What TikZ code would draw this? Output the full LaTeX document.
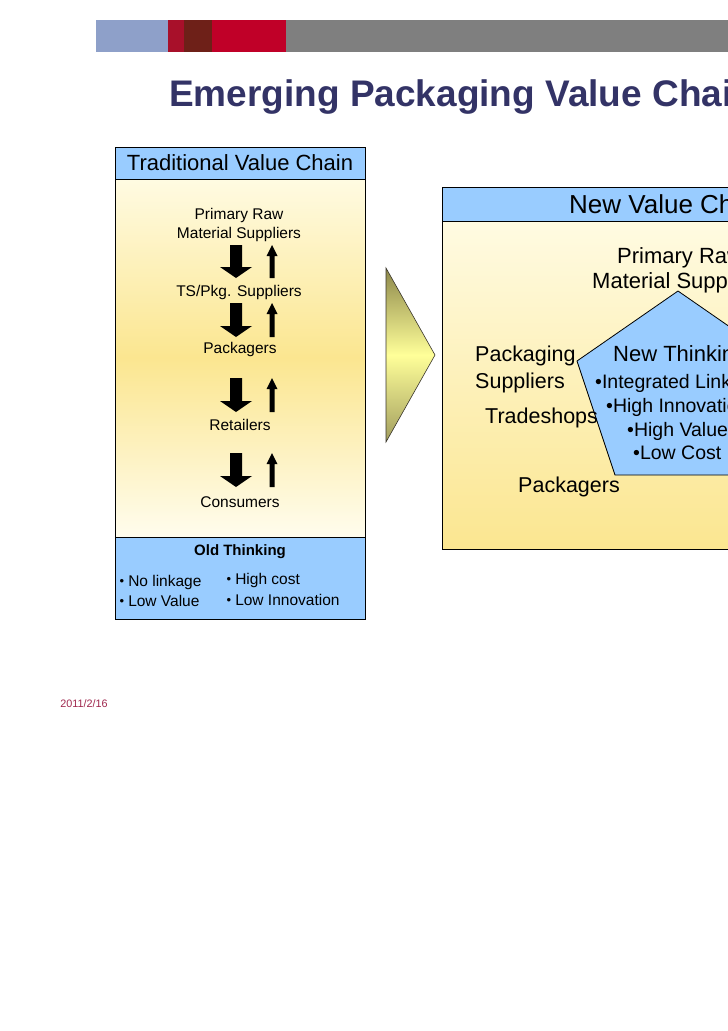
\documentclass[tikz,border=0pt]{standalone}
\usepackage{fontspec}
\setmainfont{Liberation Sans}
\definecolor{hdrblue}{HTML}{99CCFF}
\definecolor{titlecol}{HTML}{333366}
\definecolor{barblue}{HTML}{8EA0C9}
\definecolor{bardred}{HTML}{A8102A}
\definecolor{barbrown}{HTML}{6E2018}
\definecolor{barred}{HTML}{C00028}
\definecolor{bargray}{HTML}{7F7F7F}
\definecolor{paleyel}{HTML}{FFFBE2}
\definecolor{midyel}{HTML}{FBE690}
\definecolor{datecol}{HTML}{A0284E}
\definecolor{chevtop}{HTML}{8C874A}
\definecolor{chevmid}{HTML}{FFFF99}
\definecolor{chevbot}{HTML}{A19D5E}
\newcommand\setfs[1]{\fontsize{#1}{#1}\selectfont}
\newcommand\smbul{\raisebox{0.8pt}{\setfs{13}\textbullet}\hspace{4pt}}
\tikzset{
  box/.style={draw=black, line width=0.8pt},
  hdrbox/.style={box, fill=hdrblue},
  lbl/.style={inner sep=0pt, font=\setfs{15.5}},
  rlbl/.style={inner sep=0pt, font=\setfs{21.5}, anchor=west},
  plbl/.style={inner sep=0pt, font=\setfs{19.5}, anchor=west},
  fatarrow/.style={fill=black},
  thinarrow/.style={fill=black},
}
\begin{document}
\begin{tikzpicture}[x=1pt,y=-1pt]
\useasboundingbox (0,0) rectangle (728,1031);
\clip (0,0) rectangle (728,1031);
\fill[white] (0,0) rectangle (728,1031);

% top bar
\fill[barblue]  (96,20) rectangle (168,52);
\fill[bardred]  (168,20) rectangle (184,52);
\fill[barbrown] (184,20) rectangle (212,52);
\fill[barred]   (212,20) rectangle (286,52);
\fill[bargray]  (286,20) rectangle (728,52);

% title
\node[anchor=base west, inner sep=0pt, text=titlecol, font=\setfs{37}\bfseries] (title) at (169,106) {Emerging Packaging Value Chain};

% ===== left panel =====
\path[box, top color=paleyel, bottom color=paleyel!60!white, middle color=midyel] (115,179) rectangle (365,537);
\path[hdrbox] (115,147) rectangle (365,179);
\node[inner sep=0pt, font=\setfs{22}] (tvc) at (240,163) {Traditional Value Chain};
\path[hdrbox] (115,537) rectangle (365,619);

\node[lbl] (prm1) at (239,215) {Primary Raw};
\node[lbl] (prm2) at (239,234) {Material Suppliers};
\node[lbl] (ts) at (239,292) {TS/Pkg. Suppliers};
\node[lbl] (pk) at (240,349) {Packagers};
\node[lbl] (rt) at (240,425) {Retailers};
\node[lbl] (cs) at (240,502) {Consumers};

\foreach \t/\b in {245/278, 303/337, 378/412, 453/487} {
  \path[fatarrow] (230,\t) -- (242,\t) -- (242,{\b-11}) -- (252,{\b-11}) -- (236,\b)
      -- (220,{\b-11}) -- (230,{\b-11}) -- cycle;
  \path[thinarrow] (269.5,\b) -- (274.5,\b) -- (274.5,{\t+11}) -- (277.5,{\t+11}) -- (272,\t)
      -- (266.5,{\t+11}) -- (269.5,{\t+11}) -- cycle;
}

\node[inner sep=0pt, font=\setfs{15}\bfseries] (old) at (240,552) {Old Thinking};
\node[lbl, anchor=west] (b1) at (119.5,582) {\smbul No linkage};
\node[lbl, anchor=west] (b2) at (119.5,601) {\smbul Low Value};
\node[lbl, anchor=west] (b3) at (226.5,580) {\smbul High cost};
\node[lbl, anchor=west] (b4) at (226.5,600) {\smbul Low Innovation};

% ===== chevron =====
\path[draw=black!80!olive, line width=0.6pt, top color=chevtop, bottom color=chevbot, middle color=chevmid]
  (386,268) -- (435,355) -- (386,442) -- cycle;

% ===== right panel =====
\path[box, top color=paleyel, bottom color=midyel] (442,221) rectangle (886,549);
\path[hdrbox] (442,187) rectangle (886,221);
\node[inner sep=0pt, font=\setfs{26}, anchor=west] (nvc) at (569,204) {New Value Chain};

\node[inner sep=0pt, font=\setfs{22}, anchor=west] (rprm1) at (617,258) {Primary Raw};
\node[inner sep=0pt, font=\setfs{22}, anchor=west] (rprm2) at (592,283) {Material Suppliers};

\path[box, fill=hdrblue] (678,291) -- (577,361) -- (615,475) -- (741,475) -- (779,361) -- cycle;

\node[rlbl] (pkg) at (475,356) {Packaging};
\node[rlbl] (sup) at (475,383) {Suppliers};
\node[rlbl] (trd) at (485,418) {Tradeshops};
\node[rlbl] (rpk) at (518,487) {Packagers};

\node[inner sep=0pt, font=\setfs{22}, anchor=west] (newt) at (613,356) {New Thinking};
\node[plbl] (n1) at (595,383) {\textbullet Integrated Linkage};
\node[plbl] (n2) at (606,407) {\textbullet High Innovation};
\node[plbl] (n3) at (627,431) {\textbullet High Value};
\node[plbl] (n4) at (633,453) {\textbullet Low Cost};

% date
\node[inner sep=0pt, text=datecol, font=\setfs{10.8}] (date) at (84,704) {2011/2/16};
\end{tikzpicture}
\end{document}
